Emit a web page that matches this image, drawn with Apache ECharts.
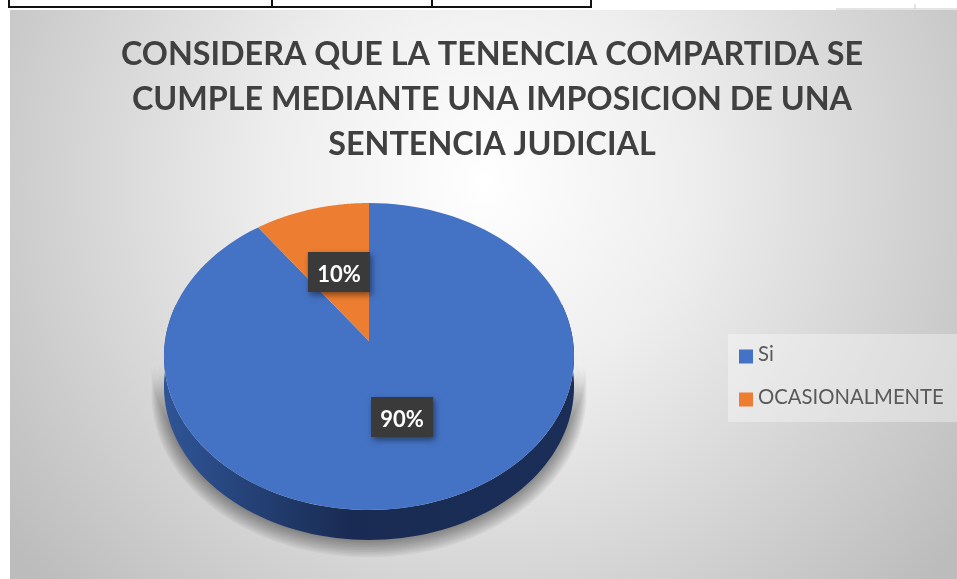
<!DOCTYPE html>
<html>
<head>
<meta charset="utf-8">
<style>
  html, body { margin: 0; padding: 0; background: #fff; }
  #main { width: 957px; height: 579px; }
</style>
<script src="https://cdn.jsdelivr.net/npm/echarts@6/dist/echarts.min.js"></script>
</head>
<body>
<div id="main"></div>
<script>
const categories = ["Si", "OCASIONALMENTE"];
const pieValues = [90, 10];
const pieColors = ["#4472C4", "#ED7D31"];
const titleLines = [
  "CONSIDERA QUE LA TENENCIA COMPARTIDA SE",
  "CUMPLE MEDIANTE UNA IMPOSICION DE UNA",
  "SENTENCIA JUDICIAL",
];

const total = pieValues.reduce((a, b) => a + b, 0);

// the pie is tilted in the original, so project a flat circle with perspective
const apexX = 369;
const apexY = 341;
const depth = 30;
function project(angle, r) {
  const X = r * Math.sin(angle);
  const Y = r * Math.cos(angle);
  const d = 1 + 0.101 * Y;
  return [apexX + (204 * X) / d, apexY - (151.9 * Y) / d];
}

function sliceAngles(index) {
  let before = 0;
  for (let i = 0; i < index; i++) before += pieValues[i];
  return [
    (before / total) * Math.PI * 2,
    ((before + pieValues[index]) / total) * Math.PI * 2,
  ];
}

function renderSlice(params, api) {
  const index = params.seriesIndex - 1;
  const [start, end] = sliceAngles(index);
  const points = [[apexX, apexY]];
  const steps = 120;
  for (let i = 0; i <= steps; i++) {
    points.push(project(start + ((end - start) * i) / steps, 1));
  }
  const mid = (start + end) / 2;
  const pos = project(mid, 0.5);
  return {
    type: "group",
    children: [
      {
        type: "polygon",
        z2: 1,
        shape: { points },
        style: { fill: pieColors[index] },
      },
      {
        type: "rect",
        z2: 5,
        shape: { x: pos[0] - 31, y: pos[1] - 20, width: 62, height: 40 },
        style: {
          fill: "#3A3A3A",
          shadowColor: "rgba(0,0,0,0.45)",
          shadowBlur: 6,
          shadowOffsetX: 2,
          shadowOffsetY: 3,
        },
      },
      {
        type: "text",
        z2: 6,
        x: pos[0],
        y: pos[1] + 3,
        style: {
          text: Math.round((api.value(0) / total) * 100) + "%",
          fill: "#fff",
          font: "bold 22px Lato",
          align: "center",
          verticalAlign: "middle",
        },
      },
    ],
  };
}

function wallPoints(r, drop, from, to) {
  const points = [];
  const steps = 100;
  for (let i = 0; i <= steps; i++) {
    const p = project(from + ((to - from) * i) / steps, r);
    points.push([p[0], p[1] + drop]);
  }
  for (let i = steps; i >= 0; i--) {
    points.push(project(from + ((to - from) * i) / steps, r));
  }
  return points;
}

function renderWall() {
  // soft shadow: stacked see-through crescents, darker towards the disc
  const children = [];
  for (let i = 0; i < 10; i++) {
    children.push({
      type: "polygon",
      z2: i,
      shape: {
        points: wallPoints(1.06 - i * 0.006, depth + 6 - i * 0.6, Math.PI * 0.52, Math.PI * 1.48),
      },
      style: { fill: "rgba(0,0,0,0.042)" },
    });
  }
  children.push({
    type: "polygon",
    z2: 20,
    shape: { points: wallPoints(1, depth, Math.PI * 0.42, Math.PI * 1.58) },
    style: {
      fill: {
        type: "linear",
        x: 0,
        y: 0,
        x2: 1,
        y2: 0,
        colorStops: [
          { offset: 0, color: "#2F5597" },
          { offset: 0.45, color: "#192B52" },
          { offset: 1, color: "#1A2E58" },
        ],
      },
    },
  });
  return { type: "group", children };
}

const chart = echarts.init(document.getElementById("main"));
chart.setOption({
  animation: false,
  title: {
    text: titleLines.join("\n"),
    left: 487,
    top: 27,
    textAlign: "center",
    textStyle: {
      fontFamily: "Lato",
      fontWeight: "bold",
      fontSize: 32.3,
      lineHeight: 45,
      color: "#404040",
    },
  },
  legend: {
    data: categories,
    orient: "vertical",
    left: 728,
    top: 334,
    padding: [10, 15, 15, 11],
    backgroundColor: "rgba(255,255,255,0.35)",
    icon: "rect",
    itemWidth: 14,
    itemHeight: 14,
    itemGap: 23,
    selectedMode: false,
    formatter: "{t|{name}}",
    textStyle: {
      rich: {
        t: {
          fontFamily: "Lato",
          fontSize: 20.3,
          color: "#595959",
          padding: [0, 0, 5, 0],
        },
      },
    },
  },
  graphic: [
    {
      type: "rect",
      z: -10,
      shape: { x: 10, y: 10, width: 947, height: 569 },
      style: {
        fill: {
          type: "radial",
          x: 0.5,
          y: 0.3,
          r: 1.05,
          colorStops: [
            { offset: 0, color: "#FFFFFF" },
            { offset: 0.35, color: "#EEEEEE" },
            { offset: 1, color: "#BCBCBC" },
          ],
        },
      },
    },
    // bit of the table above the chart
    {
      type: "polyline",
      z: -5,
      shape: { points: [[9, 0], [9, 7], [591, 7], [591, 0]] },
      style: { fill: "none", stroke: "#111", lineWidth: 2 },
    },
    {
      type: "line",
      z: -5,
      shape: { x1: 272, y1: 0, x2: 272, y2: 7 },
      style: { stroke: "#111", lineWidth: 2 },
    },
    {
      type: "line",
      z: -5,
      shape: { x1: 432, y1: 0, x2: 432, y2: 7 },
      style: { stroke: "#111", lineWidth: 2 },
    },
    {
      type: "line",
      z: -5,
      shape: { x1: 836, y1: 9, x2: 957, y2: 9 },
      style: { stroke: "#C8C8C8", lineWidth: 1 },
    },
    {
      type: "line",
      z: -5,
      shape: { x1: 915, y1: 4, x2: 915, y2: 9 },
      style: { stroke: "#C8C8C8", lineWidth: 1 },
    },
  ],
  series: [
    {
      type: "custom",
      name: "pared",
      coordinateSystem: "none",
      silent: true,
      z: 1,
      data: [total],
      renderItem: renderWall,
    },
    ...categories.map((name, i) => ({
      type: "custom",
      name,
      coordinateSystem: "none",
      silent: true,
      z: 2,
      itemStyle: { color: pieColors[i] },
      data: [pieValues[i]],
      renderItem: renderSlice,
    })),
  ],
});
</script>
</body>
</html>
